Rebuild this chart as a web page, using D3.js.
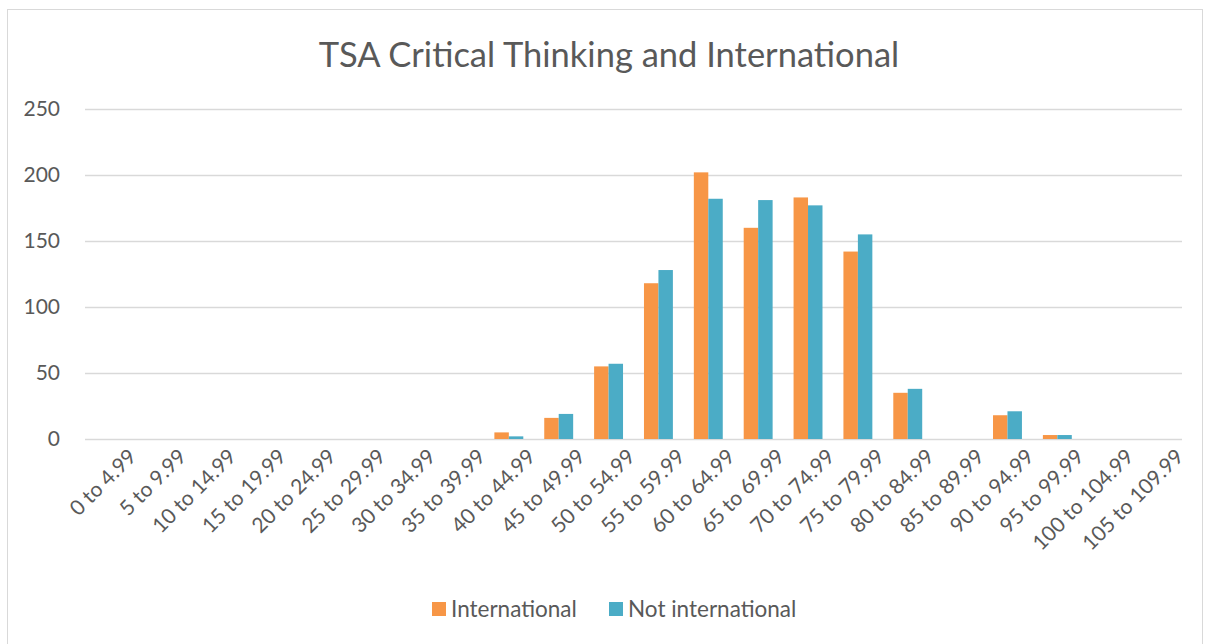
<!DOCTYPE html>
<html>
<head>
<meta charset="utf-8">
<script src="https://cdn.jsdelivr.net/npm/d3@7"></script>
<style>
  body { margin: 0; background: #fff; }
  svg { font-family: Lato, "Open Sans", sans-serif; }
</style>
</head>
<body>
<div id="chart"></div>
<script>
// score bands
const categories = ["0 to 4.99", "5 to 9.99", "10 to 14.99", "15 to 19.99", "20 to 24.99",
  "25 to 29.99", "30 to 34.99", "35 to 39.99", "40 to 44.99", "45 to 49.99", "50 to 54.99",
  "55 to 59.99", "60 to 64.99", "65 to 69.99", "70 to 74.99", "75 to 79.99", "80 to 84.99",
  "85 to 89.99", "90 to 94.99", "95 to 99.99", "100 to 104.99", "105 to 109.99"];
const international = [0, 0, 0, 0, 0, 0, 0, 0, 5, 16, 55, 118, 202, 160, 183, 142, 35, 0, 18, 3, 0, 0];
const notInternational = [0, 0, 0, 0, 0, 0, 0, 0, 2, 19, 57, 128, 182, 181, 177, 155, 38, 0, 21, 3, 0, 0];
const seriesNames = ["International", "Not international"];
const yTicks = [0, 50, 100, 150, 200, 250];

const W = 1205, H = 644;
const margin = { top: 109, right: 23, bottom: 205, left: 85 };
const width = W - margin.left - margin.right,
  height = H - margin.top - margin.bottom;
const colors = ["#f79646", "#4bacc6"];

const svg = d3.select("#chart").append("svg")
  .attr("width", W).attr("height", H);

// outer chart border
svg.append("rect")
  .attr("x", 7.5).attr("y", 9.5)
  .attr("width", 1195).attr("height", 650)
  .attr("fill", "none").attr("stroke", "#d9d9d9");

svg.append("text")
  .attr("x", 609).attr("y", 67)
  .attr("text-anchor", "middle")
  .attr("font-size", 34.5).attr("fill", "#595959")
  .text("TSA Critical Thinking and International");

const g = svg.append("g")
  .attr("transform", "translate(" + margin.left + "," + margin.top + ")");

const x = d3.scaleBand().domain(categories).range([0, width]).paddingInner(0.42).paddingOuter(0.21);
const x1 = d3.scaleBand().domain(seriesNames).range([0, x.bandwidth()]);
const y = d3.scaleLinear().domain([0, 250]).range([height, 0]);

// gridlines
g.selectAll(".grid").data(yTicks).enter().append("line")
  .attr("x1", 0).attr("x2", width)
  .attr("y1", d => y(d) + 0.5).attr("y2", d => y(d) + 0.5)
  .attr("stroke", "#d9d9d9").attr("stroke-width", 1.3);

// y axis labels
const yAxis = g.append("g").call(d3.axisLeft(y).tickValues(yTicks).tickSize(0).tickPadding(25));
yAxis.select(".domain").remove();
yAxis.selectAll("text").attr("font-size", 21).attr("fill", "#595959")
  .style("font-family", "Lato, 'Open Sans', sans-serif");

// x axis labels
const xAxis = g.append("g").attr("transform", "translate(0," + height + ")")
  .call(d3.axisBottom(x).tickSize(0).tickPadding(14));
xAxis.select(".domain").remove();
xAxis.selectAll("text")
  .attr("font-size", 21).attr("fill", "#595959")
  .style("font-family", "Lato, 'Open Sans', sans-serif")
  .attr("text-anchor", "end")
  .attr("dx", "0.3em").attr("dy", "0.9em")
  .attr("transform", "rotate(-45)");

const rows = categories.map((c, i) => ({ cat: c, vals: [international[i], notInternational[i]] }));

const groups = g.selectAll(".grp").data(rows).enter().append("g")
  .attr("transform", d => "translate(" + x(d.cat) + ",0)");

groups.selectAll("rect")
  .data(d => d.vals.map((v, k) => ({ name: seriesNames[k], v: v, k: k })))
  .enter().append("rect")
  .attr("x", d => x1(d.name))
  .attr("y", d => y(d.v))
  .attr("width", x1.bandwidth())
  .attr("height", d => height - y(d.v))
  .attr("fill", d => colors[d.k]);

// legend
const legend = svg.append("g").attr("transform", "translate(432,609)");
const items = [{ name: seriesNames[0], x: 0 }, { name: seriesNames[1], x: 177 }];
items.forEach((it, i) => {
  legend.append("rect").attr("x", it.x).attr("y", -7).attr("width", 14).attr("height", 14).attr("fill", colors[i]);
  legend.append("text").attr("x", it.x + 19).attr("y", 0).attr("dy", "0.35em")
    .attr("font-size", 22.5).attr("fill", "#595959").text(it.name);
});
</script>
</body>
</html>
